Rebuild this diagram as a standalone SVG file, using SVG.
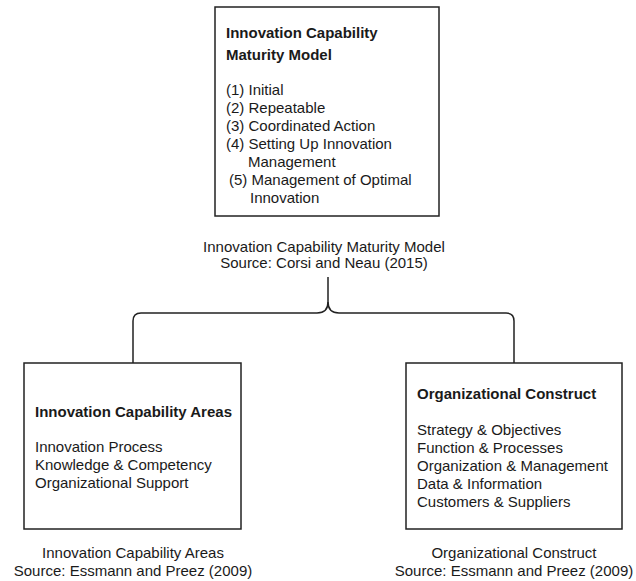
<svg xmlns="http://www.w3.org/2000/svg" width="636" height="581" viewBox="0 0 636 581">
<style>
text{font-family:"Liberation Sans",Arial,sans-serif;font-size:15px;fill:#1a1a1a}
.b{font-weight:bold}
.c{text-anchor:middle}
.box{fill:#fff;stroke:#222;stroke-width:1.5}
.con{fill:none;stroke:#222;stroke-width:1.5}
</style>
<rect width="636" height="581" fill="#fff"/>
<g id="connectors">
<path class="con" d="M328,277 V302 Q328,313 317,313 H141 Q133,313 133,321 V363"/>
<path class="con" d="M328,302 Q328,313 339,313 H506 Q514,313 514,321 V363"/>
</g>
<g id="icmm">
<rect class="box" x="215" y="7" width="224" height="209"/>
<text class="b" x="226" y="38">Innovation Capability</text>
<text class="b" x="226" y="60">Maturity Model</text>
<text x="226" y="95">(1) Initial</text>
<text x="226" y="113">(2) Repeatable</text>
<text x="226" y="131">(3) Coordinated Action</text>
<text x="226" y="149">(4) Setting Up Innovation</text>
<text x="248" y="167">Management</text>
<text x="229" y="185">(5) Management of Optimal</text>
<text x="250" y="203">Innovation</text>
<text class="c" x="324" y="252">Innovation Capability Maturity Model</text>
<text class="c" x="324" y="268">Source: Corsi and Neau (2015)</text>
</g>
<g id="ica">
<rect class="box" x="24" y="363" width="217" height="166"/>
<text class="b" x="35" y="417">Innovation Capability Areas</text>
<text x="35" y="452">Innovation Process</text>
<text x="35" y="470">Knowledge &amp; Competency</text>
<text x="35" y="488">Organizational Support</text>
<text class="c" x="133" y="558">Innovation Capability Areas</text>
<text class="c" x="133" y="576">Source: Essmann and Preez (2009)</text>
</g>
<g id="oc">
<rect class="box" x="406" y="363" width="216" height="166"/>
<text class="b" x="417" y="399">Organizational Construct</text>
<text x="417" y="435">Strategy &amp; Objectives</text>
<text x="417" y="453">Function &amp; Processes</text>
<text x="417" y="471">Organization &amp; Management</text>
<text x="417" y="489">Data &amp; Information</text>
<text x="417" y="507">Customers &amp; Suppliers</text>
<text class="c" x="514" y="558">Organizational Construct</text>
<text class="c" x="514" y="576">Source: Essmann and Preez (2009)</text>
</g>
</svg>
